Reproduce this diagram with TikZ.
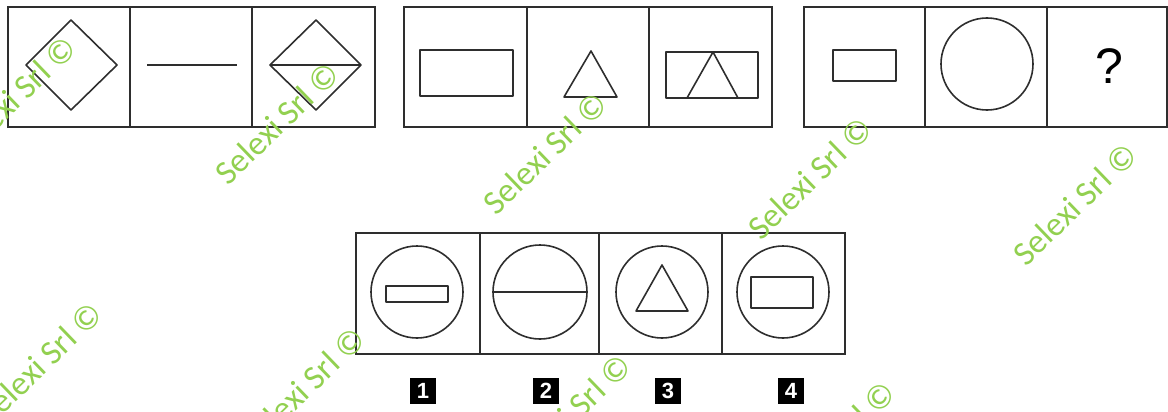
\documentclass[tikz,border=0pt]{standalone}
\usepackage{fontspec}
\setmainfont{Liberation Sans}
\newfontfamily\wmfont{Carlito}
\usepackage{tikz}
\definecolor{wmgreen}{HTML}{92D050}
\definecolor{inkgray}{HTML}{2E2E2E}

\begin{document}
\begin{tikzpicture}[x=1pt, y=-1pt,
    cellbox/.style={draw=inkgray, line width=2.2pt},
    figline/.style={draw=inkgray, line width=1.6pt, line join=round},
    wmtext/.style={text=wmgreen, rotate=44, font=\wmfont\fontsize{34}{34}\selectfont, inner sep=0pt},
    numlab/.style={fill=black, text=white, minimum width=26pt, minimum height=26pt, inner sep=0pt,
                   font=\bfseries\fontsize{22}{22}\selectfont}]
      \useasboundingbox (0, 0) rectangle (1168, 412);
      % first row, group 1
      \draw[cellbox] (8, 7) rectangle (375, 127);
      \draw[cellbox] (130, 7) -- (130, 127);
      \draw[cellbox] (252, 7) -- (252, 127);
      \draw[figline] (71, 20) -- (117, 65) -- (71, 110) -- (26, 65) -- cycle;
      \draw[figline] (147, 65) -- (237, 65);
      \draw[figline] (316, 20) -- (361, 65) -- (316, 110) -- (270, 65) -- cycle;
      \draw[figline] (270, 65) -- (361, 65);
      % first row, group 2
      \draw[cellbox] (404, 7) rectangle (772, 127);
      \draw[cellbox] (527, 7) -- (527, 127);
      \draw[cellbox] (649, 7) -- (649, 127);
      \draw[figline] (420, 50) rectangle (513, 96);
      \draw[figline] (591, 51) -- (617, 97) -- (564, 97) -- cycle;
      \draw[figline] (666, 52) rectangle (758, 98);
      \draw[figline] (713, 52) -- (738, 98) -- (687, 98) -- cycle;
      % first row, group 3
      \draw[cellbox] (804, 7) rectangle (1167, 127);
      \draw[cellbox] (925, 7) -- (925, 127);
      \draw[cellbox] (1047, 7) -- (1047, 127);
      \draw[figline] (833, 50) rectangle (896, 81);
      \draw[figline] (987, 64) circle (46);
      \node[font=\fontsize{50}{50}\selectfont, text=black] (qmark) at (1109, 66) {?};
      % answers
      \draw[cellbox] (356, 233) rectangle (845, 354);
      \draw[cellbox] (480, 233) -- (480, 354);
      \draw[cellbox] (599, 233) -- (599, 354);
      \draw[cellbox] (722, 233) -- (722, 354);
      \draw[figline] (417, 292) circle (46);
      \draw[figline] (386, 286) rectangle (448, 302);
      \draw[figline] (540, 292) circle (47);
      \draw[figline] (493, 292) -- (587, 292);
      \draw[figline] (662, 292) circle (46);
      \draw[figline] (662, 265) -- (688, 311) -- (636, 311) -- cycle;
      \draw[figline] (783, 292) circle (46);
      \draw[figline] (751, 277) rectangle (813, 308);
      \node[numlab] (lab1) at (423, 391) {1};
      \node[numlab] (lab2) at (546, 391) {2};
      \node[numlab] (lab3) at (668, 391) {3};
      \node[numlab] (lab4) at (791, 391) {4};
      % watermarks
      \foreach \wx/\wy in {14/97, 277/123, 545/153, 810/178, 1075/204,
                           40/363, 303/388, 569/415, 833/442}
        \node[wmtext] at (\wx, \wy) {Selexi Srl \textcopyright};
    \end{tikzpicture}
\end{document}
